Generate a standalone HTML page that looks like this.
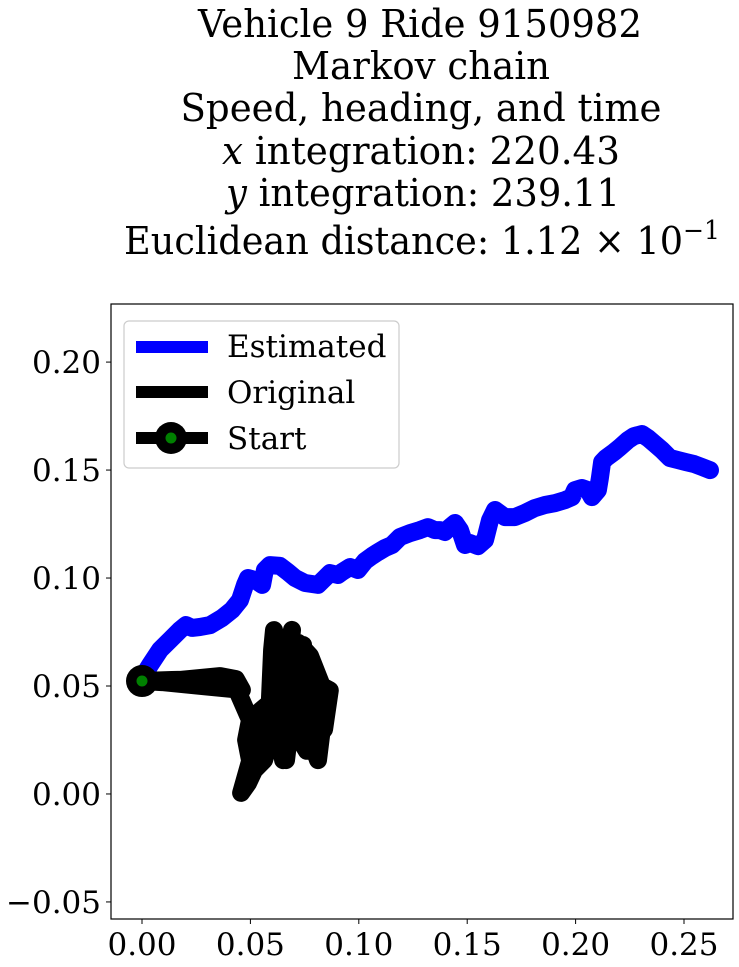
<!DOCTYPE html>
<html><head><meta charset="utf-8"><style>
html,body{margin:0;padding:0;background:#fff;}
svg{display:block;font-family:"DejaVu Serif","Liberation Serif",serif;}
</style></head><body>
<svg id="chart" width="739" height="967" viewBox="0 0 739 967" xmlns="http://www.w3.org/2000/svg">
<g font-size="38" text-anchor="middle" fill="#000">
<text x="420" y="37" textLength="444" lengthAdjust="spacingAndGlyphs">Vehicle 9 Ride 9150982</text>
<text x="421" y="79" textLength="258" lengthAdjust="spacingAndGlyphs">Markov chain</text>
<text x="421" y="121" textLength="481" lengthAdjust="spacingAndGlyphs">Speed, heading, and time</text>
<text x="421" y="164" textLength="398" lengthAdjust="spacingAndGlyphs"><tspan font-style="italic">x</tspan> integration: 220.43</text>
<text x="423" y="206" textLength="394" lengthAdjust="spacingAndGlyphs"><tspan font-style="italic">y</tspan> integration: 239.11</text>
<text x="422" y="254" textLength="596" lengthAdjust="spacingAndGlyphs">Euclidean distance: 1.12 × 10<tspan font-size="26" dy="-15">−1</tspan></text>
</g>
<defs><clipPath id="plotclip"><rect x="111" y="304" width="622" height="615"/></clipPath></defs>
<g id="series" clip-path="url(#plotclip)"></g>
<rect x="111" y="304" width="622" height="615" fill="none" stroke="#000" stroke-width="1.2"/>
<g id="axes"></g>
<g>
<rect x="124" y="321" width="275" height="147" rx="5" fill="#fff" fill-opacity="0.85" stroke="#ccc" stroke-width="1.2"/>
<line x1="136" y1="347" x2="208" y2="347" stroke="#0000ff" stroke-width="12"/>
<text x="227" y="357" font-size="31">Estimated</text>
<line x1="136" y1="392" x2="208" y2="392" stroke="#000" stroke-width="12"/>
<text x="227" y="403" font-size="31">Original</text>
<line x1="136" y1="438" x2="208" y2="438" stroke="#000" stroke-width="12"/>
<circle cx="171" cy="438" r="16" fill="#000"/>
<circle cx="171" cy="438" r="5.5" fill="#008000"/>
<text x="227" y="449" font-size="31">Start</text>
</g>
</svg>
<script>
const xTicks=[0,0.05,0.10,0.15,0.20,0.25];
const xTickLabels=["0.00","0.05","0.10","0.15","0.20","0.25"];
const yTicks=[-0.05,0,0.05,0.10,0.15,0.20];
const yTickLabels=["\u22120.05","0.00","0.05","0.10","0.15","0.20"];
const estX=[0,0.0037,0.0083,0.0129,0.0175,0.0203,0.0231,0.0267,0.0314,0.0369,0.0415,0.0452,0.0475,0.0489,0.0521,0.0554,0.0567,0.059,0.0636,0.0673,0.0706,0.0752,0.0812,0.0844,0.0867,0.0904,0.0923,0.096,0.0996,0.1029,0.1061,0.1089,0.1121,0.1153,0.119,0.1236,0.1282,0.1319,0.1351,0.1374,0.1397,0.1421,0.1444,0.1467,0.149,0.1513,0.155,0.1582,0.1605,0.1628,0.1674,0.172,0.1766,0.1812,0.1859,0.1905,0.1951,0.1983,0.1997,0.2029,0.2057,0.2075,0.2103,0.2112,0.2122,0.214,0.2177,0.2205,0.2242,0.2269,0.2306,0.2334,0.2366,0.2398,0.2435,0.2472,0.2509,0.2546,0.2583,0.262];
const estY=[0.0537,0.0597,0.0667,0.0713,0.0759,0.0782,0.0769,0.0773,0.0782,0.0815,0.0852,0.0898,0.0968,0.1,0.0991,0.0968,0.1037,0.1060,0.1056,0.1028,0.1000,0.0977,0.0968,0.1000,0.1023,0.1014,0.1028,0.1051,0.1037,0.1079,0.1102,0.1120,0.1139,0.1153,0.1190,0.1208,0.1222,0.1236,0.1222,0.1222,0.1213,0.1236,0.1255,0.1222,0.1153,0.1162,0.1148,0.1176,0.1268,0.1315,0.1282,0.1282,0.1301,0.1324,0.1338,0.1347,0.1361,0.1375,0.1407,0.1417,0.1407,0.1375,0.1407,0.1463,0.1537,0.1556,0.1583,0.1606,0.1639,0.1657,0.1667,0.1648,0.1620,0.1593,0.1556,0.1546,0.1537,0.1528,0.1514,0.1500];
const origX=[0,0.0175,0.0360,0.0433,0.0461,0.0277,0.0092,0,0.0138,0.0323,0.0438,0.0498,0.0480,0.0498,0.0553,0.0590,0.0600,0.0609,0.0623,0.0637,0.0651,0.0688,0.0710,0.0743,0.0724,0.0779,0.0812,0.0835,0.0789,0.0766,0.0720,0.0687,0.0664,0.0641,0.0673,0.0692,0.0664,0.0618,0.0563,0.0517,0.0489,0.0457,0.0512,0.0586,0.0655,0.0720,0.0775,0.0830,0.0866,0.0840,0.0760,0.0700,0.0623,0.0540,0.0480];
const origY=[0.0523,0.0528,0.0546,0.0532,0.0482,0.0500,0.0518,0.0523,0.0528,0.0532,0.0481,0.0343,0.0250,0.0157,0.0250,0.0435,0.0667,0.0759,0.0528,0.0250,0.0157,0.0343,0.0620,0.0690,0.0481,0.0250,0.0157,0.0343,0.0574,0.0644,0.0528,0.0343,0.0157,0.0343,0.0574,0.0760,0.0620,0.0343,0.0157,0.0110,0.0050,0.0005,0.0200,0.0380,0.0560,0.0700,0.0640,0.0500,0.0480,0.0300,0.0200,0.0300,0.0450,0.0380,0.0250];
const NS="http://www.w3.org/2000/svg";
const L=111,R=733,T=304,B=919,X0=-0.0143,X1=0.2726,Y0=-0.0579,Y1=0.2269;
function sx(v){return L+(v-X0)/(X1-X0)*(R-L);}
function sy(v){return B-(v-Y0)/(Y1-Y0)*(B-T);}
const series=document.getElementById('series');
const axes=document.getElementById('axes');
function path(xs,ys,color,name){
  let d='';for(let i=0;i<xs.length;i++){d+=(i?'L':'M')+sx(xs[i]).toFixed(1)+','+sy(ys[i]).toFixed(1);}
  const p=document.createElementNS(NS,'path');
  p.setAttribute('d',d);p.setAttribute('fill','none');p.setAttribute('stroke',color);
  p.setAttribute('stroke-width','18');p.setAttribute('stroke-linecap','round');p.setAttribute('stroke-linejoin','round');
  
  
  series.appendChild(p);
}
path(estX,estY,'#0000ff','estimated-path');
path(origX,origY,'#000000','original-path');
const sc=document.createElementNS(NS,'circle');
sc.setAttribute('cx',sx(origX[0]));sc.setAttribute('cy',sy(origY[0]));sc.setAttribute('r','16');sc.setAttribute('fill','#000');


series.appendChild(sc);
const sc2=document.createElementNS(NS,'circle');
sc2.setAttribute('cx',sx(origX[0]));sc2.setAttribute('cy',sy(origY[0]));sc2.setAttribute('r','5.5');sc2.setAttribute('fill','#008000');


series.appendChild(sc2);
xTicks.forEach((v,i)=>{
  const x=sx(v);
  const l=document.createElementNS(NS,'line');
  l.setAttribute('x1',x);l.setAttribute('x2',x);l.setAttribute('y1',B);l.setAttribute('y2',B+5);l.setAttribute('stroke','#000');
  
  
  axes.appendChild(l);
  const t=document.createElementNS(NS,'text');
  t.setAttribute('x',x);t.setAttribute('y',B+36);t.setAttribute('font-size','31');t.setAttribute('text-anchor','middle');
  t.textContent=xTickLabels[i];
  
  
  axes.appendChild(t);
});
yTicks.forEach((v,i)=>{
  const y=sy(v);
  const l=document.createElementNS(NS,'line');
  l.setAttribute('x1',L-5);l.setAttribute('x2',L);l.setAttribute('y1',y);l.setAttribute('y2',y);l.setAttribute('stroke','#000');
  
  
  axes.appendChild(l);
  const t=document.createElementNS(NS,'text');
  t.setAttribute('x',L-10);t.setAttribute('y',y+11);t.setAttribute('font-size','31');t.setAttribute('text-anchor','end');
  t.textContent=yTickLabels[i];
  
  
  axes.appendChild(t);
});
</script>
</body></html>
